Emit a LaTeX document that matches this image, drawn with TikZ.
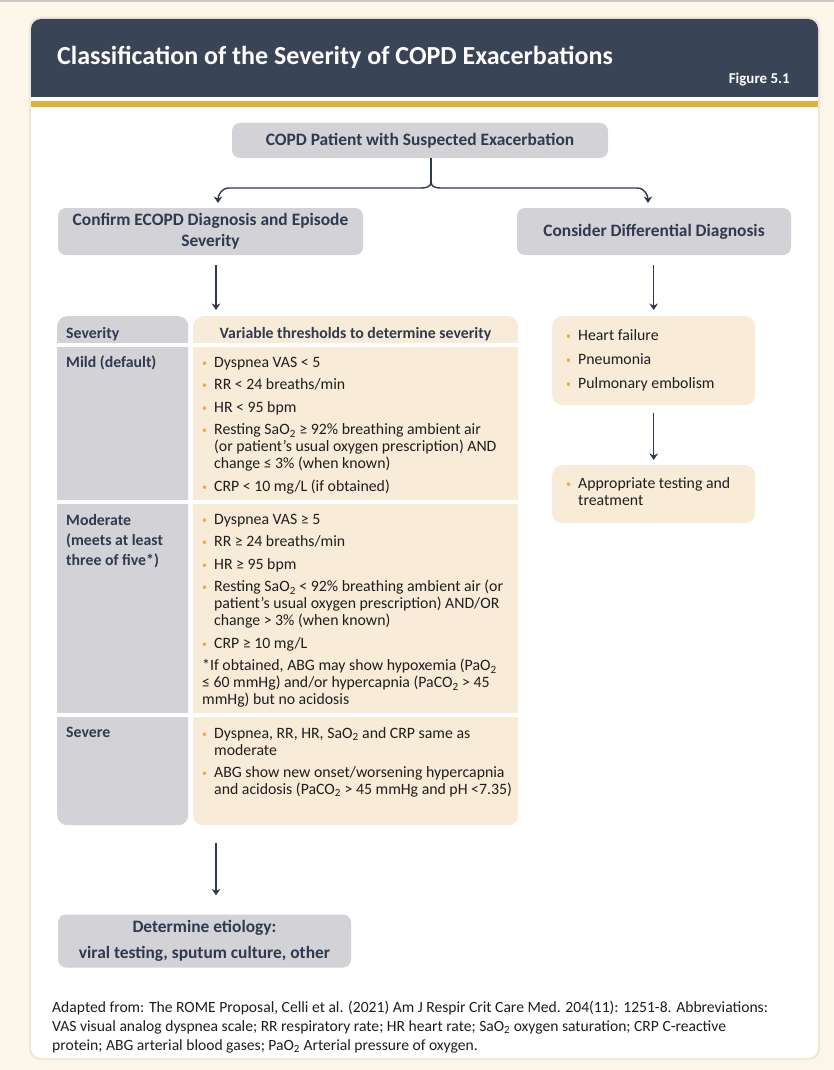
\documentclass[tikz,border=0pt]{standalone}
\usepackage{fontspec}
\setmainfont{Carlito}
\usepackage{xcolor}
\usetikzlibrary{arrows.meta}

\definecolor{pagebg}{HTML}{FBF5EA}
\definecolor{edgegray}{HTML}{C9C9C9}
\definecolor{cardshadow}{HTML}{EDE6D9}
\definecolor{headbg}{HTML}{3A4457}
\definecolor{goldbar}{HTML}{E2B13C}
\definecolor{boxgray}{HTML}{D2D2D7}
\definecolor{cream}{HTML}{F8ECD8}
\definecolor{navy}{HTML}{2F3A4F}
\definecolor{ink}{HTML}{1E1E1E}
\definecolor{dotgold}{HTML}{E3AE45}

\newcommand{\dotb}{\makebox[12pt][l]{\raisebox{1pt}{\textcolor{dotgold}{\fontsize{10}{10}\selectfont\textbullet}}}}
\newcommand{\indt}{\hspace*{12pt}}
\newcommand{\subtwo}{\textsubscript{2}}

\begin{document}
\begin{tikzpicture}[x=1pt,y=-1pt,
    every node/.style={inner sep=0pt,text=ink,font=\fontsize{15.8}{17}\selectfont},
    graybox/.style={fill=boxgray,rounded corners=8pt,text=navy,align=center,font=\bfseries\fontsize{17.4}{21}\selectfont},
    creambox/.style={fill=cream,rounded corners=10pt,anchor=north west},
    rowname/.style={text=navy,align=left,font=\bfseries\fontsize{15.8}{20}\selectfont},
    itemlist/.style={anchor=north west,align=left},
    link/.style={draw=navy,line width=1.4pt},
    arr/.style={link,-{Stealth[length=6.5pt,width=8.5pt]}}]

  % page and card
  \fill[pagebg] (0,0) rectangle (834,1070);
  \fill[edgegray] (0,0) rectangle (834,2.5);
  \fill[cardshadow,rounded corners=11pt] (29,17) rectangle (820,1060);
  \fill[white,rounded corners=10pt] (31,19) rectangle (818,1058);
  \fill[headbg] (31,97) [rounded corners=10pt] -- (31,19) -- (818,19) [sharp corners] -- (818,97) -- cycle;
  \fill[goldbar] (31,101) rectangle (818,107);

  \node[anchor=base west,text=white,font=\bfseries\fontsize{26}{30}\selectfont] (title) at (57,65) {Classification of the Severity of COPD Exacerbations};
  \node[anchor=base east,text=white,font=\bfseries\fontsize{15}{18}\selectfont] (fignum) at (790,84) {Figure 5.1};

  % flow boxes
  \node[graybox,minimum width=376pt,minimum height=35pt] (patient) at (420,140.5) {COPD Patient with Suspected Exacerbation};
  \node[graybox,minimum width=305pt,minimum height=47pt] (confirm) at (210.5,231.5) {Confirm ECOPD Diagnosis and Episode\\Severity};
  \node[graybox,minimum width=274pt,minimum height=47pt] (consider) at (654,231.5) {Consider Differential Diagnosis};

  \coordinate (fork) at (431,182);
  \coordinate (ltip) at (218,203);
  \coordinate (rtip) at (648,203);
  \draw[link] (patient.south -| fork) -- (fork);
  \draw[arr] (fork) .. controls +(0,5) and +(5,0) .. (421,188) -- (229,188) .. controls +(-8,0) and +(0,-7) .. (ltip);
  \draw[arr] (fork) .. controls +(0,5) and +(-5,0) .. (441,188) -- (637,188) .. controls +(8,0) and +(0,-7) .. (rtip);

  % severity table
  \node[creambox,fill=boxgray,minimum width=131pt,minimum height=509pt] (sevcol) at (57,316) {};
  \node[creambox,minimum width=325pt,minimum height=509pt] (varcol) at (193,316) {};
  \foreach \gy in {343,500,713}
    \fill[white] (50,\gy) rectangle (525,\gy+4);

  \node[rowname,anchor=base west] (sevhdr) at (66,338) {Severity};
  \node[rowname,anchor=base] (varhdr) at (355.5,338) {Variable thresholds to determine severity};

  \node[rowname,anchor=base west] (mild) at (66,367) {Mild (default)};
  \node[itemlist] (mildlist) at (202,357) {%
    \dotb Dyspnea VAS < 5\\[5.5pt]
    \dotb RR < 24 breaths/min\\[5.5pt]
    \dotb HR < 95 bpm\\[5.5pt]
    \dotb Resting SaO\subtwo{} ≥ 92\% breathing ambient air\\
    \indt (or patient's usual oxygen prescription) AND\\
    \indt change ≤ 3\% (when known)\\[5.5pt]
    \dotb CRP < 10 mg/L (if obtained)};

  \node[rowname,anchor=north west] (moderate) at (66,514) {Moderate\\(meets at least\\three of five*)};
  \node[itemlist] (modlist) at (202,514) {%
    \dotb Dyspnea VAS ≥ 5\\[5.5pt]
    \dotb RR ≥ 24 breaths/min\\[5.5pt]
    \dotb HR ≥ 95 bpm\\[5.5pt]
    \dotb Resting SaO\subtwo{} < 92\% breathing ambient air (or\\
    \indt patient's usual oxygen prescription) AND/OR\\
    \indt change > 3\% (when known)\\[5.5pt]
    \dotb CRP ≥ 10 mg/L\\[5.5pt]
    *If obtained, ABG may show hypoxemia (PaO\subtwo\\
    ≤ 60 mmHg) and/or hypercapnia (PaCO\subtwo{} > 45\\
    mmHg) but no acidosis};

  \node[rowname,anchor=base west] (severe) at (66,737) {Severe};
  \node[itemlist] (sevlist) at (202,727) {%
    \dotb Dyspnea, RR, HR, SaO\subtwo{} and CRP same as\\
    \indt moderate\\[5.5pt]
    \dotb ABG show new onset/worsening hypercapnia\\
    \indt and acidosis (PaCO\subtwo{} > 45 mmHg and pH <7.35)};

  % differential diagnosis column
  \node[creambox,minimum width=203pt,minimum height=89pt] (ddx) at (552,316) {};
  \node[itemlist] (ddxlist) at (566,329) {%
    \dotb Heart failure\\[7pt]
    \dotb Pneumonia\\[7pt]
    \dotb Pulmonary embolism};
  \node[creambox,minimum width=203pt,minimum height=58pt] (care) at (552,465) {};
  \node[itemlist] (carelist) at (566,477) {%
    \dotb Appropriate testing and\\
    \indt treatment};

  \node[graybox,minimum width=293pt,minimum height=53pt,font=\bfseries\fontsize{17.4}{17}\selectfont] (etiology) at (204.5,941) {Determine etiology:\\[8.5pt]viral testing, sputum culture, other};

  % arrows
  \coordinate (colL) at (216,0);
  \draw[arr,shorten <=10pt,shorten >=6pt] (confirm.south -| colL) -- (varcol.north -| colL);
  \draw[arr,shorten <=10pt,shorten >=6pt] (consider.south -| ddx.north) -- (ddx.north);
  \draw[arr,shorten <=8pt,shorten >=5pt] (ddx.south) -- (care.north);
  \draw[arr,shorten <=18pt,shorten >=19pt] (varcol.south -| colL) -- (etiology.north -| colL);

  % source note
  \node[anchor=north west,align=left,font=\fontsize{15.6}{19}\selectfont] (source) at (52,1001) {%
    Adapted from: The ROME Proposal, Celli et al. (2021) Am J Respir Crit Care Med. 204(11): 1251-8. Abbreviations:\\
    VAS visual analog dyspnea scale; RR respiratory rate; HR heart rate; SaO\subtwo{} oxygen saturation; CRP C-reactive\\
    protein; ABG arterial blood gases; PaO\subtwo{} Arterial pressure of oxygen.};
\end{tikzpicture}
\end{document}
